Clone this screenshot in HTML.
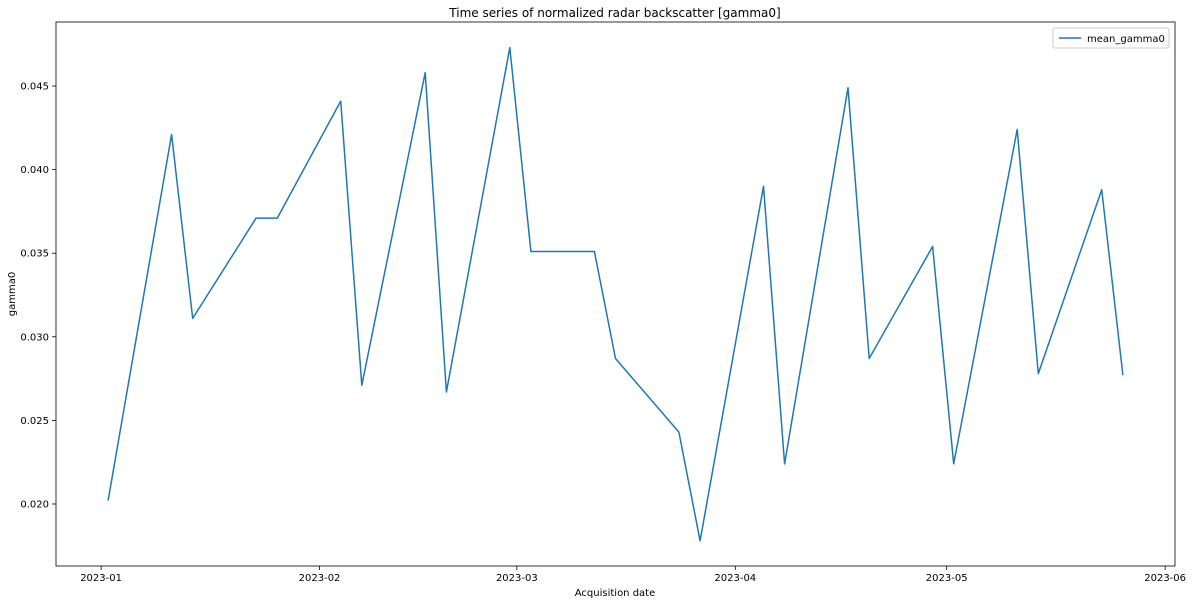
<!DOCTYPE html>
<html><head><meta charset="utf-8"><style>
body{margin:0;background:#fff;}
svg{display:block;font-family:"DejaVu Sans","Liberation Sans",sans-serif;}
</style></head><body>
<svg id="chart" width="1192" height="604">
<text x="615" y="17" text-anchor="middle" font-size="12">Time series of normalized radar backscatter [gamma0]</text>
<text x="615" y="596" text-anchor="middle" font-size="10">Acquisition date</text>
<text transform="translate(15,294) rotate(-90)" text-anchor="middle" font-size="10">gamma0</text>
<g id="axes"></g>
<g id="series"></g>
<g>
<rect x="1053" y="28" width="116" height="20" fill="#fff" stroke="#ccc" rx="2"/>
<line x1="1059" y1="38" x2="1081" y2="38" stroke="#1f77b4" stroke-width="1.5"/>
<text x="1087" y="42" font-size="10">mean_gamma0</text>
</g>
</svg>
<script>
const dates=["2023-01-02","2023-01-11","2023-01-14","2023-01-23","2023-01-26","2023-02-04","2023-02-07","2023-02-16","2023-02-19","2023-02-28","2023-03-03","2023-03-12","2023-03-15","2023-03-24","2023-03-27","2023-04-05","2023-04-08","2023-04-17","2023-04-20","2023-04-29","2023-05-02","2023-05-11","2023-05-14","2023-05-23","2023-05-26"];
const values=[0.0202,0.0421,0.0311,0.0371,0.0371,0.0441,0.0271,0.0458,0.0267,0.0473,0.0351,0.0351,0.0287,0.0243,0.0178,0.0390,0.0224,0.0449,0.0287,0.0354,0.0224,0.0424,0.0278,0.0388,0.0277];
const xTicks=["2023-01-01","2023-02-01","2023-03-01","2023-04-01","2023-05-01","2023-06-01"];
const yTicks=[0.020,0.025,0.030,0.035,0.040,0.045];
const L=56,R=1175,T=22,B=566;
const day=86400000;
const t0=Date.parse("2023-01-01")-6.4*day, t1=Date.parse("2023-06-01")+1.4*day;
const y0=0.01629,y1=0.04883;
const X=d=>L+(Date.parse(d)-t0)/(t1-t0)*(R-L);
const Y=v=>B-(v-y0)/(y1-y0)*(B-T);
const NS="http://www.w3.org/2000/svg";
const ax=document.getElementById('axes');
function mk(tag,attrs,parent){const e=document.createElementNS(NS,tag);for(const k in attrs)e.setAttribute(k,attrs[k]);parent.appendChild(e);return e;}
const frame=mk('rect',{x:L,y:T,width:R-L,height:B-T,fill:'none',stroke:'#000','stroke-width':0.8},ax);


xTicks.forEach(d=>{const x=X(d);
 const l=mk('line',{x1:x,x2:x,y1:B,y2:B+4,stroke:'#000','stroke-width':0.8},ax);
 
 
 const t=mk('text',{x:x,y:B+15,'text-anchor':'middle','font-size':10},ax);t.textContent=d.slice(0,7);
 
 
});
yTicks.forEach(v=>{const y=Y(v);
 const l=mk('line',{x1:L-4,x2:L,y1:y,y2:y,stroke:'#000','stroke-width':0.8},ax);
 
 
 const t=mk('text',{x:L-7,y:y+3.5,'text-anchor':'end','font-size':10},ax);t.textContent=v.toFixed(3);
 
 
});
const pts=dates.map((d,i)=>X(d).toFixed(1)+','+Y(values[i]).toFixed(1)).join(' ');
const pl=mk('polyline',{points:pts,fill:'none',stroke:'#1f77b4','stroke-width':1.5,'stroke-linejoin':'round'},document.getElementById('series'));


</script>
</body></html>
